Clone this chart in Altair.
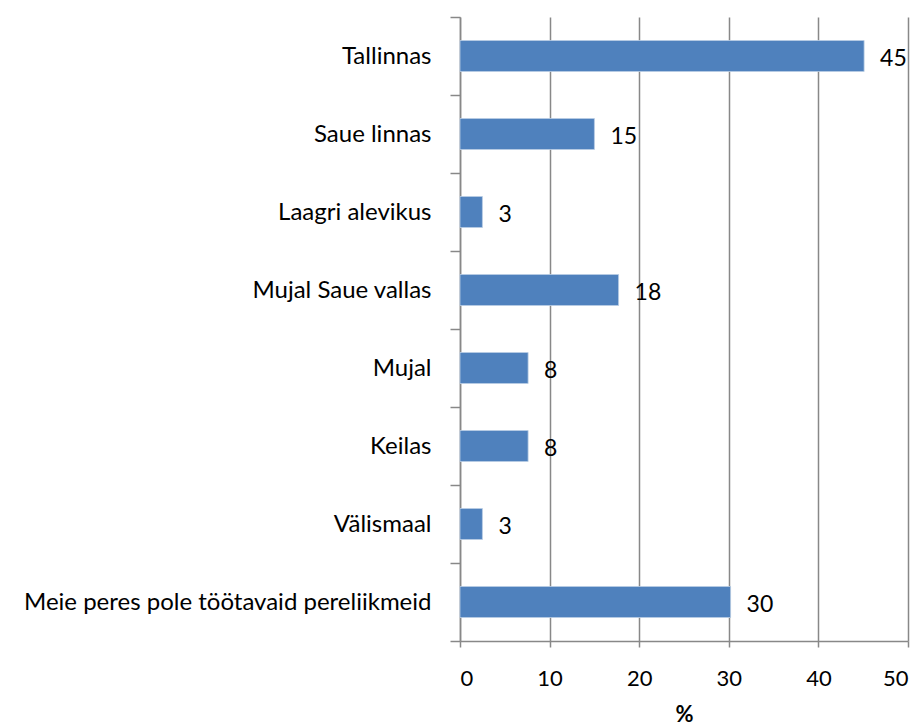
import altair as alt
import pandas as pd

categories = ["Tallinnas", "Saue linnas", "Laagri alevikus", "Mujal Saue vallas",
              "Mujal", "Keilas", "Välismaal", "Meie peres pole töötavaid  pereliikmeid"]
values = [45.1, 15.0, 2.5, 17.7, 7.6, 7.6, 2.5, 30.2]
labels = ["45", "15", "3", "18", "8", "8", "3", "30"]

df = pd.DataFrame({"cat": categories, "val": values, "lab": labels})

FONT = "Lato"
GRID = "#888888"

y = alt.Y("cat:N", sort=categories, title=None,
          scale=alt.Scale(paddingInner=0, paddingOuter=0),
          axis=alt.Axis(tickBand="extent", tickSize=10, tickColor=GRID, domainColor=GRID,
                        domainWidth=1.5, tickWidth=1.5,
                        labelPadding=19, labelFont=FONT, labelFontSize=24,
                        labelColor="#000000", labelLimit=600))
x = alt.X("val:Q", title="%", scale=alt.Scale(domain=[0, 50], nice=False),
          axis=alt.Axis(values=[0, 10, 20, 30, 40, 50], grid=True, gridColor=GRID,
                        gridWidth=1.5, tickColor=GRID, domainColor=GRID, domainWidth=1.5,
                        tickWidth=1.5, tickSize=6, labelPadding=21, labelFont=FONT,
                        labelFontSize=22, labelColor="#000000", titleFont=FONT,
                        titleFontSize=22, titleFontWeight="bold", titleColor="#000000",
                        titlePadding=15))

bars = alt.Chart(df).mark_bar(color="#4F81BD", stroke="#b9cde5", strokeWidth=0.8,
                              size=31).encode(x=x, y=y)
text = alt.Chart(df).mark_text(align="left", baseline="middle", dx=16, dy=3,
                               font=FONT, fontSize=23, color="#000000").encode(
    x="val:Q", y=alt.Y("cat:N", sort=categories), text="lab:N")

chart = (bars + text).properties(
    width=448, height=624,
    autosize=alt.AutoSizeParams(type="none"),
    padding={"left": 452, "top": 9, "right": 8, "bottom": 86},
).configure_view(stroke=None)

chart.save("out.html", embed_options={"renderer": "svg", "actions": False})
